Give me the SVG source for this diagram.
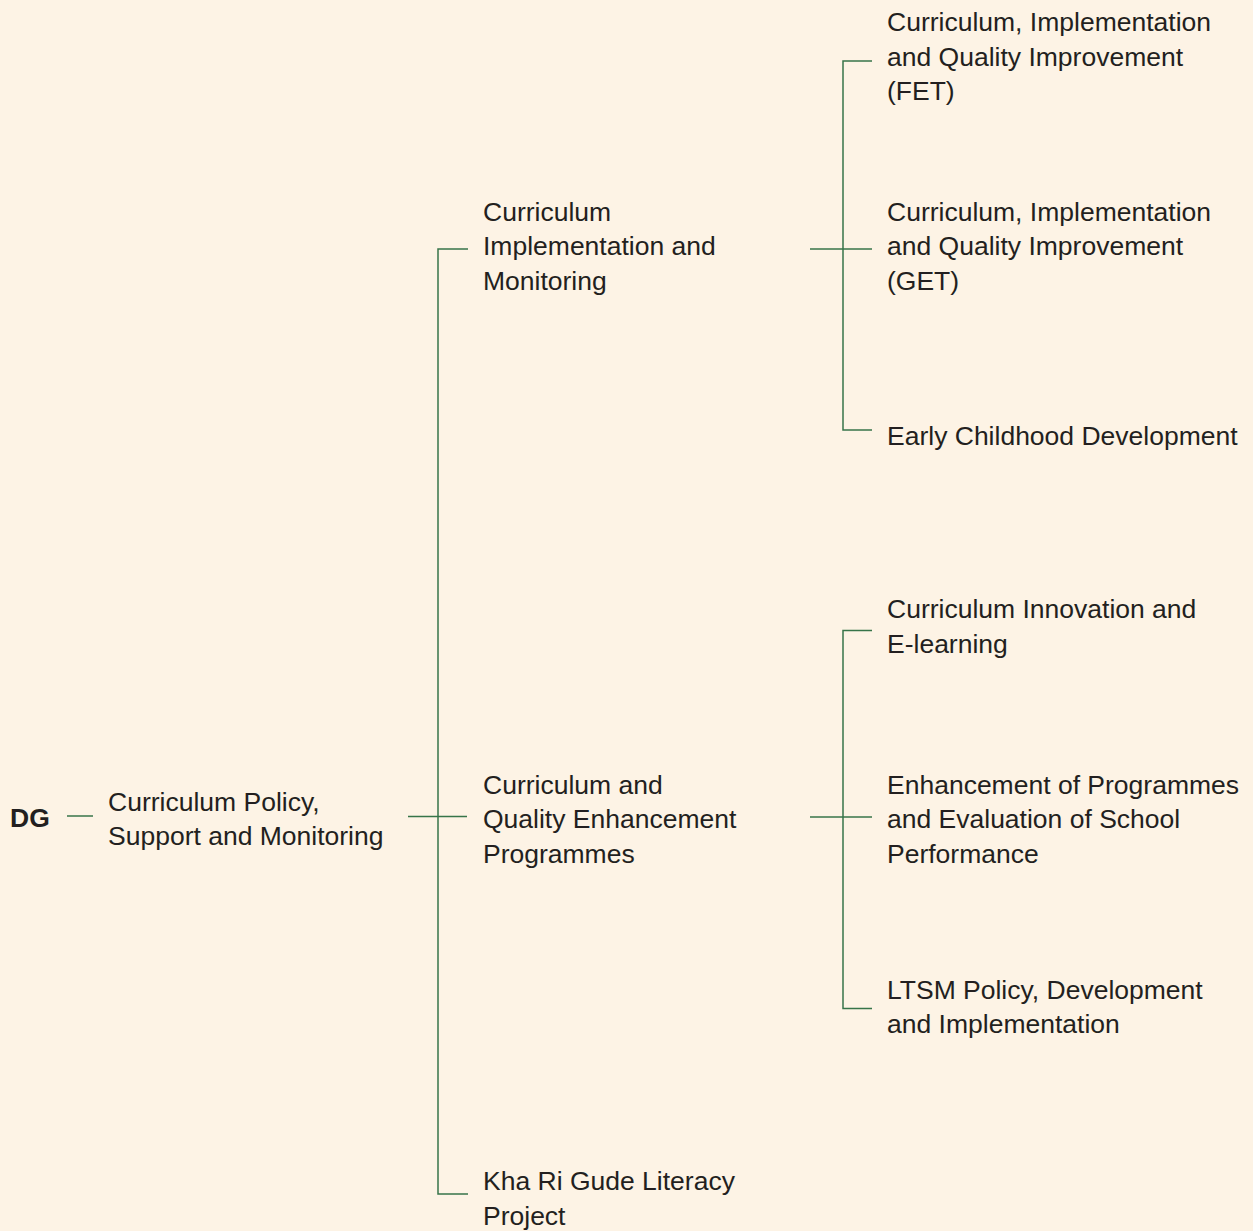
<svg xmlns="http://www.w3.org/2000/svg" width="1253" height="1231" viewBox="0 0 1253 1231">
<style>
.t{font-family:"Liberation Sans",Arial,sans-serif;font-size:26.5px;fill:#231f20}
.b{font-weight:bold}
.c{stroke:#377449;stroke-width:1.5;fill:none}
</style>
<rect width="1253" height="1231" fill="#fdf3e5"/>
<g id="connectors" class="c">
<path d="M67,816H93"/>
<path d="M408,816.5H467"/>
<path d="M468,249H438V1194H468"/>
<path d="M810,249H872"/>
<path d="M872,61H843V430H872"/>
<path d="M810,817H872"/>
<path d="M872,630.5H843V1008.5H872"/>
</g>
<g id="dg"><text class="t b" x="10" y="827">DG</text></g>
<g id="cpsm"><text class="t"><tspan x="108" y="810.5">Curriculum Policy,</tspan><tspan x="108" y="845">Support and Monitoring</tspan></text></g>
<g id="cim"><text class="t"><tspan x="483" y="220.5">Curriculum</tspan><tspan x="483" y="255">Implementation and</tspan><tspan x="483" y="289.5">Monitoring</tspan></text></g>
<g id="cqep"><text class="t"><tspan x="483" y="793.5">Curriculum and</tspan><tspan x="483" y="828">Quality Enhancement</tspan><tspan x="483" y="862.5">Programmes</tspan></text></g>
<g id="khari"><text class="t"><tspan x="483" y="1190">Kha Ri Gude Literacy</tspan><tspan x="483" y="1224.5">Project</tspan></text></g>
<g id="fet"><text class="t"><tspan x="887" y="31">Curriculum, Implementation</tspan><tspan x="887" y="65.5">and Quality Improvement</tspan><tspan x="887" y="100">(FET)</tspan></text></g>
<g id="get"><text class="t"><tspan x="887" y="220.5">Curriculum, Implementation</tspan><tspan x="887" y="255">and Quality Improvement</tspan><tspan x="887" y="289.5">(GET)</tspan></text></g>
<g id="ecd"><text class="t" x="887" y="445">Early Childhood Development</text></g>
<g id="cie"><text class="t"><tspan x="887" y="618">Curriculum Innovation and</tspan><tspan x="887" y="652.5">E-learning</tspan></text></g>
<g id="epe"><text class="t"><tspan x="887" y="793.5">Enhancement of Programmes</tspan><tspan x="887" y="828">and Evaluation of School</tspan><tspan x="887" y="862.5">Performance</tspan></text></g>
<g id="ltsm"><text class="t"><tspan x="887" y="998.5">LTSM Policy, Development</tspan><tspan x="887" y="1033">and Implementation</tspan></text></g>
</svg>
